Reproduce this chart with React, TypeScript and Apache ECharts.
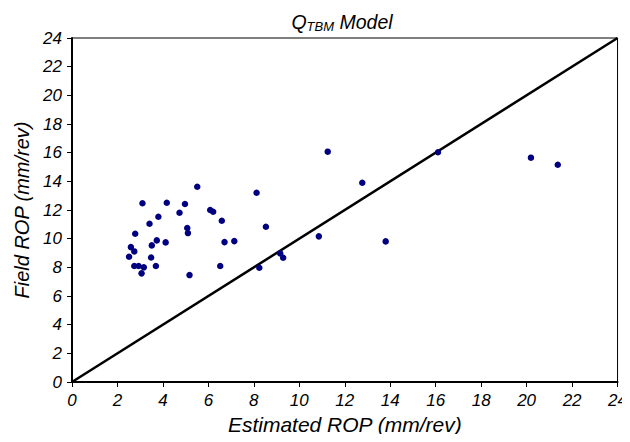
import React, { useEffect, useRef } from "react";
import * as echarts from "echarts";

const estimatedROP: number[] = [
  5.51, 8.12, 3.10, 4.17, 4.97, 4.73, 6.08, 6.21, 3.80, 6.59,
  3.41, 5.07, 5.10, 2.78, 3.73, 4.12, 6.71, 7.14, 2.59, 3.51,
  2.74, 2.51, 3.48, 2.74, 2.93, 3.16, 3.69, 6.52, 3.06, 5.17,
  8.24, 11.25, 12.77, 8.53, 10.86, 9.16, 9.29, 16.1, 13.8, 20.19, 21.37,
];
const fieldROP: number[] = [
  13.62, 13.2, 12.47, 12.51, 12.42, 11.81, 12.0, 11.88, 11.53, 11.25,
  11.04, 10.74, 10.39, 10.34, 9.88, 9.74, 9.76, 9.83, 9.41, 9.53,
  9.11, 8.74, 8.69, 8.09, 8.09, 8.0, 8.09, 8.09, 7.58, 7.46,
  7.97, 16.07, 13.9, 10.83, 10.16, 8.97, 8.67, 16.03, 9.81, 15.65, 15.16,
];
const lineX: number[] = [0, 24];
const lineY: number[] = [0, 24];

const FONT = "'Liberation Sans', Arial, sans-serif";

export default function App() {
  const ref = useRef<HTMLDivElement>(null);
  useEffect(() => {
    if (!ref.current) return;
    const chart = echarts.init(ref.current, undefined, { renderer: "svg" });
    const labelBase = {
      fontFamily: FONT,
      fontStyle: "italic" as const,
      fontSize: 17,
      color: "#000",
    };
    chart.setOption({
      animation: false,
      backgroundColor: "#fff",
      title: {
        text: "{q|Q}{sub|TBM}{m| Model}",
        left: 337,
        textAlign: "center",
        top: 5,
        textStyle: {
          fontWeight: "normal",
          rich: {
            q: { fontFamily: FONT, fontStyle: "italic", fontWeight: "normal", fontSize: 19.5, color: "#000" },
            sub: {
              fontFamily: FONT,
              fontStyle: "italic",
              fontWeight: "normal",
              fontSize: 13,
              color: "#000",
              padding: [10, 0, 0, 0],
            },
            m: { fontFamily: FONT, fontStyle: "italic", fontWeight: "normal", fontSize: 19.5, color: "#000" },
          },
        },
      },
      grid: {
        left: 72,
        right: 8,
        top: 38,
        bottom: 60,
        containLabel: false,
        show: true,
        borderColor: "#000",
        borderWidth: 1,
      },
      xAxis: {
        type: "value",
        min: 0,
        max: 24,
        interval: 2,
        name: "Estimated ROP (mm/rev)",
        nameLocation: "middle",
        nameGap: 27,
        nameTextStyle: { fontFamily: FONT, fontStyle: "italic", fontSize: 21, color: "#000" },
        axisLine: { show: true, lineStyle: { color: "#000", width: 2 } },
        axisTick: { show: true, inside: false, length: 5, lineStyle: { color: "#000", width: 1 } },
        axisLabel: { ...labelBase, margin: 10 },
        splitLine: { show: false },
      },
      yAxis: {
        type: "value",
        min: 0,
        max: 24,
        interval: 2,
        name: "Field ROP (mm/rev)",
        nameLocation: "middle",
        nameGap: 35,
        nameTextStyle: { fontFamily: FONT, fontStyle: "italic", fontSize: 20, color: "#000" },
        axisLine: { show: true, lineStyle: { color: "#000", width: 2 } },
        axisTick: { show: true, inside: false, length: 5, lineStyle: { color: "#000", width: 1 } },
        axisLabel: { ...labelBase, margin: 10 },
        splitLine: { show: false },
      },
      series: [
        {
          type: "line",
          data: lineX.map((x, i) => [x, lineY[i]]),
          symbol: "none",
          lineStyle: { color: "#000", width: 2.5 },
          silent: true,
          z: 2,
        },
        {
          type: "scatter",
          data: estimatedROP.map((x, i) => [x, fieldROP[i]]),
          symbol: "circle",
          symbolSize: 6.5,
          itemStyle: { color: "#000080", opacity: 1 },
          z: 3,
        },
      ],
    });
    return () => chart.dispose();
  }, []);
  return <div ref={ref} style={{ width: 630, height: 442, margin: -8 }} />;
}
